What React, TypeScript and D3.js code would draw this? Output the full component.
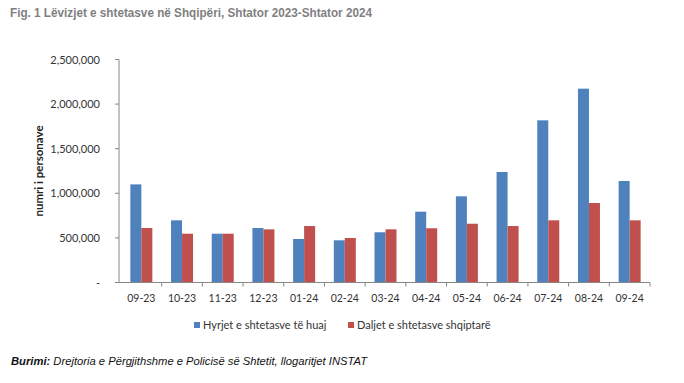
import React from "react";
import * as d3 from "d3";

const categories = ["09-23","10-23","11-23","12-23","01-24","02-24","03-24","04-24","05-24","06-24","07-24","08-24","09-24"];
const arrivals = [1100000, 697000, 547000, 611000, 488000, 473000, 563000, 794000, 966000, 1239000, 1818000, 2173000, 1138000];
const departures = [611000, 547000, 547000, 596000, 633000, 499000, 596000, 608000, 659000, 633000, 697000, 891000, 697000];
const yTicks = [0, 500000, 1000000, 1500000, 2000000, 2500000];
const seriesNames = ["Hyrjet e shtetasve të huaj", "Daljet e shtetasve shqiptarë"];
const colors = ["#4f81bd", "#c0504d"];

const W = 684, H = 383;
const left = 121, right = 650, top = 59.5, bottom = 282.5;

export default function App() {
  const x = d3.scaleBand().domain(categories).range([left, right]).paddingInner(0).paddingOuter(0);
  const y = d3.scaleLinear().domain([0, 2500000]).range([bottom, top]);
  const barW = 11;
  const fmt = d3.format(",");
  const font = "Lato, 'Liberation Sans', sans-serif";
  const axisColor = "#868686";
  return (
    <svg width={W} height={H} style={{ position: "absolute", left: 0, top: 0, background: "#fff" }}>
      <text x={10} y={17} fontFamily="'Liberation Sans', Arial, sans-serif" fontWeight="bold" fontSize={13} fill="#7f7f7f" textLength={362} lengthAdjust="spacingAndGlyphs">
        Fig. 1 Lëvizjet e shtetasve në Shqipëri, Shtator 2023-Shtator 2024
      </text>
      {categories.map((c, i) => {
        const cx = (x(c) as number) + x.bandwidth() / 2;
        return (
          <g key={c}>
            <rect x={cx - barW} y={y(arrivals[i])} width={barW} height={bottom - y(arrivals[i])} fill={colors[0]} />
            <rect x={cx} y={y(departures[i])} width={barW} height={bottom - y(departures[i])} fill={colors[1]} />
          </g>
        );
      })}
      <line x1={left - 2} x2={left - 2} y1={top} y2={bottom} stroke={axisColor} strokeWidth={1} />
      {yTicks.map((t) => (
        <g key={t}>
          <line x1={left - 6} x2={left - 2} y1={y(t)} y2={y(t)} stroke={axisColor} />
          <text x={100} y={y(t) + 4} textAnchor="end" fontFamily={font} fontSize={11} fill="#333">
            {t === 0 ? "-" : fmt(t)}
          </text>
        </g>
      ))}
      <line x1={left - 6} x2={right} y1={bottom} y2={bottom} stroke={axisColor} strokeWidth={1} />
      {categories.map((c) => (
        <line key={"t" + c} x1={(x(c) as number) + x.bandwidth()} x2={(x(c) as number) + x.bandwidth()} y1={bottom} y2={bottom + 4} stroke={axisColor} />
      ))}
      {categories.map((c) => (
        <text key={"l" + c} x={(x(c) as number) + x.bandwidth() / 2} y={302} textAnchor="middle" fontFamily={font} fontSize={10.5} fill="#333">
          {c}
        </text>
      ))}
      <text transform={`translate(43,171) rotate(-90)`} textAnchor="middle" fontFamily={font} fontWeight="bold" fontSize={11.5} fill="#222">
        numri i personave
      </text>
      {seriesNames.map((s, i) => {
        const lx = i === 0 ? 194 : 348;
        return (
          <g key={s}>
            <rect x={lx} y={322} width={6} height={6} fill={colors[i]} />
            <text x={lx + 9} y={329} fontFamily={font} fontSize={11} fill="#333">{s}</text>
          </g>
        );
      })}
      <text x={11} y={365} fontFamily="'Liberation Sans', Arial, sans-serif" fontStyle="italic" fontSize={11} fill="#111" textLength={356} lengthAdjust="spacingAndGlyphs">
        <tspan fontWeight="bold">Burimi:</tspan> Drejtoria e Përgjithshme e Policisë së Shtetit, llogaritjet INSTAT
      </text>
    </svg>
  );
}
